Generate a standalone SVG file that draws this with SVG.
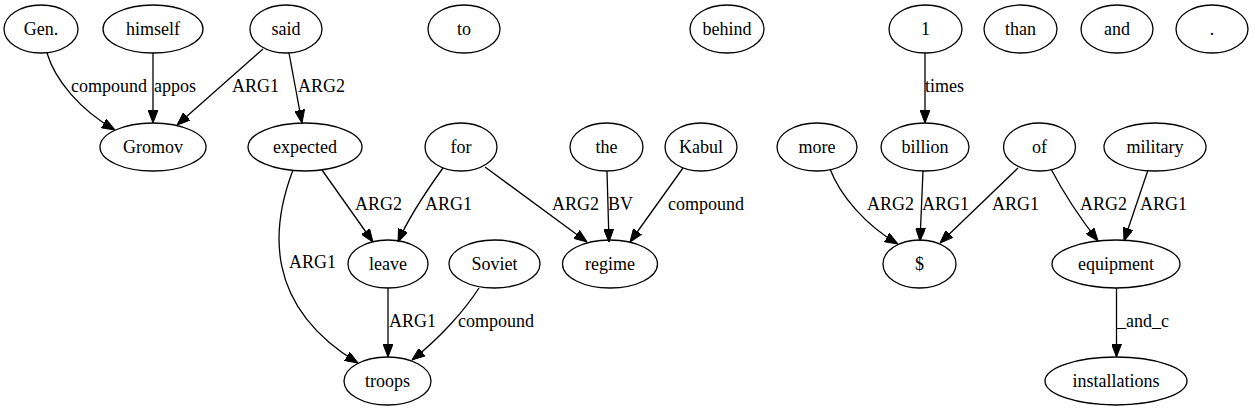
<svg xmlns="http://www.w3.org/2000/svg" width="1255" height="411" viewBox="0 0 1255 411">
<style>
.n ellipse{fill:none;stroke:#000;stroke-width:1.3}
.n text{text-anchor:middle}
.e path{fill:none;stroke:#000;stroke-width:1.3;marker-end:url(#a)}
</style>
<defs>
<marker id="a" viewBox="0 0 13 10" refX="13" refY="5" markerWidth="13" markerHeight="10" orient="auto" markerUnits="userSpaceOnUse"><path d="M0,0 L13,5 L0,10 z" fill="#000" stroke="#000" stroke-width="1"/></marker>
</defs>
<rect width="1255" height="411" fill="#fff"/>
<g font-family="Liberation Serif, Times New Roman, serif" font-size="18" fill="#000">
<g id="nodes">
<g id="n-gen" class="n"><ellipse cx="41" cy="29" rx="37" ry="24"/><text x="41" y="34.5">Gen.</text></g>
<g id="n-himself" class="n"><ellipse cx="153" cy="29" rx="50" ry="24"/><text x="153" y="34.5">himself</text></g>
<g id="n-said" class="n"><ellipse cx="286" cy="29" rx="36" ry="24"/><text x="286" y="34.5">said</text></g>
<g id="n-to" class="n"><ellipse cx="464" cy="29" rx="36" ry="24"/><text x="464" y="34.5">to</text></g>
<g id="n-behind" class="n"><ellipse cx="727" cy="29" rx="37" ry="24"/><text x="727" y="34.5">behind</text></g>
<g id="n-1" class="n"><ellipse cx="925.5" cy="29" rx="36.5" ry="24"/><text x="925.5" y="34.5">1</text></g>
<g id="n-than" class="n"><ellipse cx="1020.5" cy="29" rx="36.5" ry="24"/><text x="1020.5" y="34.5">than</text></g>
<g id="n-and" class="n"><ellipse cx="1117" cy="29" rx="36" ry="24"/><text x="1117" y="34.5">and</text></g>
<g id="n-dot" class="n"><ellipse cx="1212" cy="29" rx="36" ry="24"/><text x="1212" y="34.5">.</text></g>
<g id="n-gromov" class="n"><ellipse cx="153" cy="147" rx="53" ry="24"/><text x="153" y="152.5">Gromov</text></g>
<g id="n-expected" class="n"><ellipse cx="305" cy="147" rx="57" ry="24"/><text x="305" y="152.5">expected</text></g>
<g id="n-for" class="n"><ellipse cx="461" cy="147" rx="36" ry="24"/><text x="461" y="152.5">for</text></g>
<g id="n-the" class="n"><ellipse cx="606.5" cy="147" rx="36.5" ry="24"/><text x="606.5" y="152.5">the</text></g>
<g id="n-kabul" class="n"><ellipse cx="701" cy="147" rx="36" ry="24"/><text x="701" y="152.5">Kabul</text></g>
<g id="n-more" class="n"><ellipse cx="817" cy="147" rx="40" ry="24"/><text x="817" y="152.5">more</text></g>
<g id="n-billion" class="n"><ellipse cx="925" cy="147" rx="44" ry="24"/><text x="925" y="152.5">billion</text></g>
<g id="n-of" class="n"><ellipse cx="1039.5" cy="147" rx="36" ry="24"/><text x="1039.5" y="152.5">of</text></g>
<g id="n-military" class="n"><ellipse cx="1155" cy="147" rx="51" ry="24"/><text x="1155" y="152.5">military</text></g>
<g id="n-leave" class="n"><ellipse cx="388" cy="264" rx="40" ry="24"/><text x="388" y="269.5">leave</text></g>
<g id="n-soviet" class="n"><ellipse cx="494.5" cy="264" rx="45.5" ry="24"/><text x="494.5" y="269.5">Soviet</text></g>
<g id="n-regime" class="n"><ellipse cx="610" cy="264" rx="47.5" ry="24"/><text x="610" y="269.5">regime</text></g>
<g id="n-dollar" class="n"><ellipse cx="919.5" cy="264" rx="36.5" ry="24"/><text x="919.5" y="269.5">$</text></g>
<g id="n-equipment" class="n"><ellipse cx="1116" cy="264" rx="64" ry="24"/><text x="1116" y="269.5">equipment</text></g>
<g id="n-troops" class="n"><ellipse cx="387.5" cy="381" rx="43.5" ry="24"/><text x="387.5" y="386.5">troops</text></g>
<g id="n-installations" class="n"><ellipse cx="1116" cy="381" rx="71" ry="24"/><text x="1116" y="386.5">installations</text></g>
</g>
<g id="connectors">
<g class="e">
<path d="M47,53 C55,80 80,110 115,130"/>
<path d="M153,53 L153,123"/>
<path d="M263,49 L177,125"/>
<path d="M289,53 L302,123"/>
<path d="M322,170 L373,242"/>
<path d="M443,168 C430,186 410,214 398,242"/>
<path d="M485,167 L587,242"/>
<path d="M607,171 L609,242"/>
<path d="M683,168 L630,242"/>
<path d="M293,170 C272,225 262,305 358,363"/>
<path d="M388,288 L388,357"/>
<path d="M479,288 C465,310 440,338 412,360"/>
<path d="M925,53 L925,123"/>
<path d="M830,169 C840,195 865,225 898,244"/>
<path d="M923,171 L920,241"/>
<path d="M1018,168 L940,243"/>
<path d="M1051,169 C1062,190 1080,218 1098,241"/>
<path d="M1148,170 L1124,241"/>
<path d="M1116.5,288 L1116.5,357"/>
</g>
<g class="l">
<text x="71" y="92">compound</text>
<text x="154" y="92">appos</text>
<text x="232" y="92">ARG1</text>
<text x="298" y="92">ARG2</text>
<text x="355" y="210">ARG2</text>
<text x="425" y="210">ARG1</text>
<text x="552" y="210">ARG2</text>
<text x="608" y="210">BV</text>
<text x="668" y="210">compound</text>
<text x="289" y="268">ARG1</text>
<text x="389" y="327">ARG1</text>
<text x="458" y="327">compound</text>
<text x="925" y="92">times</text>
<text x="867" y="210">ARG2</text>
<text x="922" y="210">ARG1</text>
<text x="992" y="210">ARG1</text>
<text x="1080" y="210">ARG2</text>
<text x="1140" y="210">ARG1</text>
<text x="1117" y="327">_and_c</text>
</g>
</g>
</g>
</svg>
